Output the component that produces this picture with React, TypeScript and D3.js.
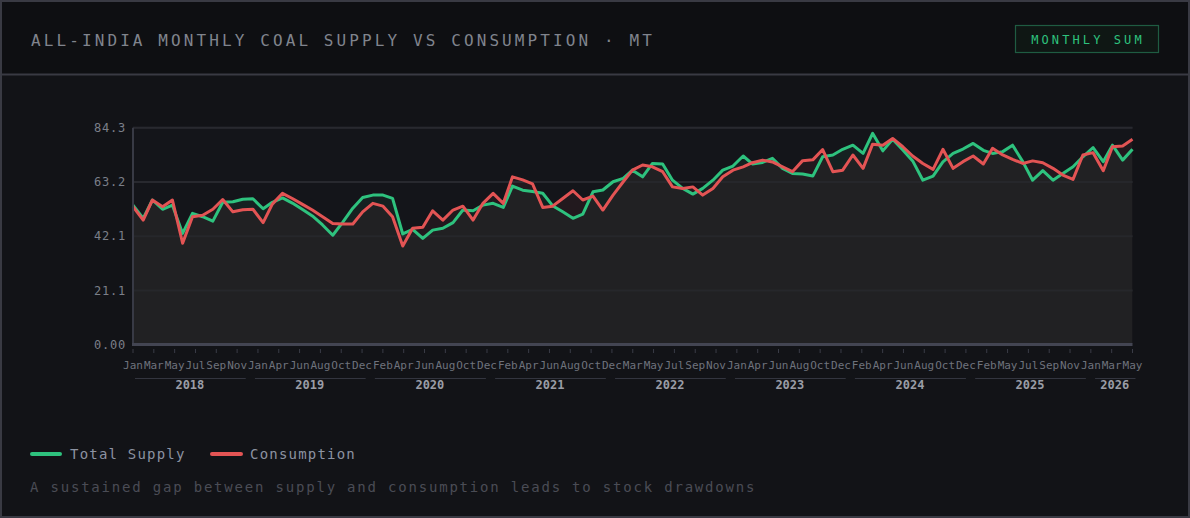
import * as d3 from "d3";

// monthly values, Jan 2018 .. May 2026 (MT)
const supply = [
  54.2, 49.0, 56.2, 52.6, 54.2, 43.2, 51.0, 49.7, 48.0, 55.3, 55.5, 56.5,
  56.7, 52.8, 55.3, 57.0, 55.0, 52.5, 50.0, 46.5, 42.5, 47.5, 53.0, 57.2,
  58.1, 58.1, 56.8, 43.0, 44.8, 41.3, 44.5, 45.2, 47.4, 52.3, 52.0, 54.2,
  54.9, 53.3, 61.6, 60.0, 59.5, 58.8, 54.0, 51.6, 49.1, 50.7, 59.4, 60.1,
  63.3, 64.6, 67.8, 65.2, 70.4, 70.2, 63.9, 60.7, 58.5, 60.7, 63.9, 67.8,
  69.4, 73.3, 70.2, 70.8, 72.4, 68.5, 66.5, 66.3, 65.5, 73.0, 73.7, 75.9,
  77.5, 74.3, 82.1, 75.3, 79.8, 75.6, 71.4, 63.9, 65.5, 71.0, 74.3, 76.0,
  78.2, 75.5, 74.3, 75.0, 77.5, 71.1, 63.9, 67.6, 63.9, 66.5, 69.1, 73.0,
  76.6, 71.1, 77.5, 71.7, 75.9,
];

const consumption = [
  53.6, 48.4, 56.2, 53.6, 56.2, 39.4, 49.7, 50.3, 52.6, 56.4, 51.6, 52.4,
  52.6, 47.4, 54.6, 58.8, 56.8, 54.5, 52.3, 49.7, 47.1, 46.9, 46.9, 51.6,
  54.9, 53.8, 49.7, 38.3, 45.2, 45.6, 52.0, 48.4, 52.3, 53.8, 48.4, 54.9,
  58.8, 54.9, 65.2, 64.0, 62.5, 53.3, 53.8, 56.8, 59.8, 56.2, 57.7, 52.3,
  58.1, 63.3, 67.8, 69.8, 69.1, 67.2, 61.3, 60.7, 61.3, 58.1, 60.7, 65.2,
  67.8, 69.1, 70.7, 71.7, 71.0, 69.1, 67.2, 71.5, 71.8, 75.8, 67.2, 67.8,
  73.7, 68.5, 77.9, 77.5, 80.1, 76.9, 73.3, 70.4, 68.1, 75.9, 68.5, 71.1,
  73.3, 70.2, 76.3, 73.7, 72.0, 70.4, 71.4, 70.7, 68.5, 65.9, 64.2, 73.7,
  74.6, 67.6, 76.9, 77.2, 79.8,
];

// month labels shown on the axis (evenly spaced)
const monthTicks = [
  "2018-01", "2018-03", "2018-05", "2018-07", "2018-09", "2018-11",
  "2019-01", "2019-04", "2019-06", "2019-08", "2019-10", "2019-12",
  "2020-02", "2020-04", "2020-06", "2020-08", "2020-10", "2020-12",
  "2021-02", "2021-04", "2021-06", "2021-08", "2021-10", "2021-12",
  "2022-03", "2022-05", "2022-07", "2022-09", "2022-11",
  "2023-01", "2023-04", "2023-06", "2023-08", "2023-10", "2023-12",
  "2024-02", "2024-04", "2024-06", "2024-08", "2024-10", "2024-12",
  "2025-02", "2025-05", "2025-07", "2025-09", "2025-11",
  "2026-01", "2026-03", "2026-05",
];

const years = ["2018", "2019", "2020", "2021", "2022", "2023", "2024", "2025", "2026"];

const yTicks = [0, 21.075, 42.15, 63.225, 84.3];
const yTickLabels = ["0.00", "21.1", "42.1", "63.2", "84.3"];

const GREEN = "#2ec27e";
const RED = "#e35454";
const MONO = "'DejaVu Sans Mono', monospace";

export default function App() {
  const W = 1190;
  const H = 518;
  const plot = { left: 133, right: 1132.5, top: 127.7, bottom: 344.6 };

  const months = d3.timeMonth.range(new Date(2018, 0, 1), new Date(2026, 5, 1));
  const parseMonth = d3.timeParse("%Y-%m");
  const fmtMonth = d3.timeFormat("%b");

  const x = d3
    .scaleTime()
    .domain([months[0], months[months.length - 1]])
    .range([plot.left, plot.right]);
  const y = d3.scaleLinear().domain([0, 84.3]).range([plot.bottom, plot.top]);
  const tickX = d3.scalePoint<string>().domain(monthTicks).range([plot.left, plot.right]);

  const rows = months.map((d, i) => ({ d, s: supply[i], c: consumption[i] }));

  const lineS = d3.line<any>().x((r) => x(r.d)).y((r) => y(r.s));
  const lineC = d3.line<any>().x((r) => x(r.d)).y((r) => y(r.c));
  const aboveC = d3.area<any>().x((r) => x(r.d)).y0(0).y1((r) => y(r.c));
  const aboveS = d3.area<any>().x((r) => x(r.d)).y0(0).y1((r) => y(r.s));
  const belowS = d3.area<any>().x((r) => x(r.d)).y0(plot.bottom).y1((r) => y(r.s));
  const belowC = d3.area<any>().x((r) => x(r.d)).y0(plot.bottom).y1((r) => y(r.c));
  const band = d3.area<any>().x((r) => x(r.d)).y0((r) => y(r.c)).y1((r) => y(r.s));

  const yearSpans = years.map((yr) => {
    const inYear = months.filter((m) => String(m.getFullYear()) === yr);
    const x0 = x(inYear[0]);
    const x1 = x(inYear[inYear.length - 1]);
    return { yr, x0, x1 };
  });

  return (
    <svg
      width={W}
      height={H}
      style={{ position: "absolute", left: 0, top: 0, display: "block" }}
    >
      <defs>
        <clipPath id="clip-above-c">
          <path d={aboveC(rows) || ""} />
        </clipPath>
        <clipPath id="clip-above-s">
          <path d={aboveS(rows) || ""} />
        </clipPath>
        <clipPath id="clip-below-s">
          <path d={belowS(rows) || ""} />
        </clipPath>
      </defs>

      {/* card */}
      <rect x={0} y={0} width={W} height={H} fill="#121317" />
      <rect x={1} y={1} width={W - 2} height={74} fill="#0e0f12" />
      <rect x={1} y={1} width={W - 2} height={H - 2} fill="none" stroke="#393a43" strokeWidth={2} />
      <line x1={0} x2={W} y1={74.5} y2={74.5} stroke="#393a43" strokeWidth={2} />

      <text
        x={31}
        y={46}
        fill="#80848d"
        fontFamily={MONO}
        fontSize={16}
        letterSpacing={3.1}
      >
        ALL-INDIA MONTHLY COAL SUPPLY VS CONSUMPTION · MT
      </text>

      <rect x={1015.5} y={25.5} width={143} height={27} fill="#0f1714" stroke="#1f5c42" strokeWidth={1.2} />
      <text
        x={1088}
        y={43.5}
        textAnchor="middle"
        fill={GREEN}
        fontFamily={MONO}
        fontSize={12}
        letterSpacing={3.1}
      >
        MONTHLY SUM
      </text>

      {/* plot */}
      <rect
        x={plot.left}
        y={plot.top}
        width={plot.right - plot.left}
        height={plot.bottom - plot.top}
        fill="#14151a"
      />
      {yTicks.slice(1).map((t) => (
        <line
          key={t}
          x1={plot.left}
          x2={plot.right}
          y1={y(t)}
          y2={y(t)}
          stroke="#26272e"
          strokeWidth={2}
        />
      ))}

      <path d={belowC(rows) || ""} fill="#212123" clipPath="url(#clip-below-s)" />
      <path d={band(rows) || ""} fill={GREEN} fillOpacity={0.07} clipPath="url(#clip-above-c)" />
      <path d={band(rows) || ""} fill={RED} fillOpacity={0.07} clipPath="url(#clip-above-s)" />

      {yTicks.slice(1).map((t) => (
        <line
          key={"g" + t}
          x1={plot.left}
          x2={plot.right}
          y1={y(t)}
          y2={y(t)}
          stroke="#2a2b31"
          strokeOpacity={0.6}
          strokeWidth={2}
        />
      ))}

      <path d={lineS(rows) || ""} fill="none" stroke={GREEN} strokeWidth={3} strokeLinejoin="round" />
      <path d={lineC(rows) || ""} fill="none" stroke={RED} strokeWidth={3} strokeLinejoin="round" />

      {/* axes */}
      <line x1={plot.left} x2={plot.left} y1={plot.top} y2={plot.bottom} stroke="#383a45" strokeWidth={2} />
      <line x1={plot.left - 1} x2={plot.right} y1={plot.bottom} y2={plot.bottom} stroke="#434552" strokeWidth={3} />

      {yTicks.map((t, i) => (
        <text
          key={"yl" + t}
          x={126}
          y={y(t)}
          dy="0.35em"
          textAnchor="end"
          fill="#7b7f89"
          fontFamily={MONO}
          fontSize={12}
          letterSpacing={0.8}
        >
          {yTickLabels[i]}
        </text>
      ))}

      {monthTicks.map((k) => {
        const d = parseMonth(k) as Date;
        const px = tickX(k) as number;
        return (
          <g key={k}>
            <line x1={px} x2={px} y1={349} y2={353} stroke="#3a3c47" strokeWidth={1} />
            <text
              x={px}
              y={369}
              textAnchor="middle"
              fill="#6e727c"
              fontFamily={MONO}
              fontSize={11}
            >
              {fmtMonth(d)}
            </text>
          </g>
        );
      })}

      {yearSpans.map((s) => (
        <g key={s.yr}>
          <line x1={s.x0 + 2} x2={s.x1 + 3} y1={378.5} y2={378.5} stroke="#33353f" strokeWidth={1} />
          <text
            x={(s.x0 + s.x1) / 2 + 2}
            y={389}
            textAnchor="middle"
            fill="#9a9da6"
            fontFamily={MONO}
            fontSize={12}
            fontWeight="bold"
          >
            {s.yr}
          </text>
        </g>
      ))}

      {/* legend */}
      <line x1={32} x2={60} y1={454} y2={454} stroke={GREEN} strokeWidth={4} strokeLinecap="round" />
      <text x={70} y={459} fill="#8c92a1" fontFamily={MONO} fontSize={14} letterSpacing={1.2}>
        Total Supply
      </text>
      <line x1={212} x2={241} y1={454} y2={454} stroke={RED} strokeWidth={4} strokeLinecap="round" />
      <text x={250} y={459} fill="#8c92a1" fontFamily={MONO} fontSize={14} letterSpacing={1.2}>
        Consumption
      </text>

      <text x={30} y={492} fill="#4a4c55" fontFamily={MONO} fontSize={14} letterSpacing={1.8}>
        A sustained gap between supply and consumption leads to stock drawdowns
      </text>
    </svg>
  );
}
